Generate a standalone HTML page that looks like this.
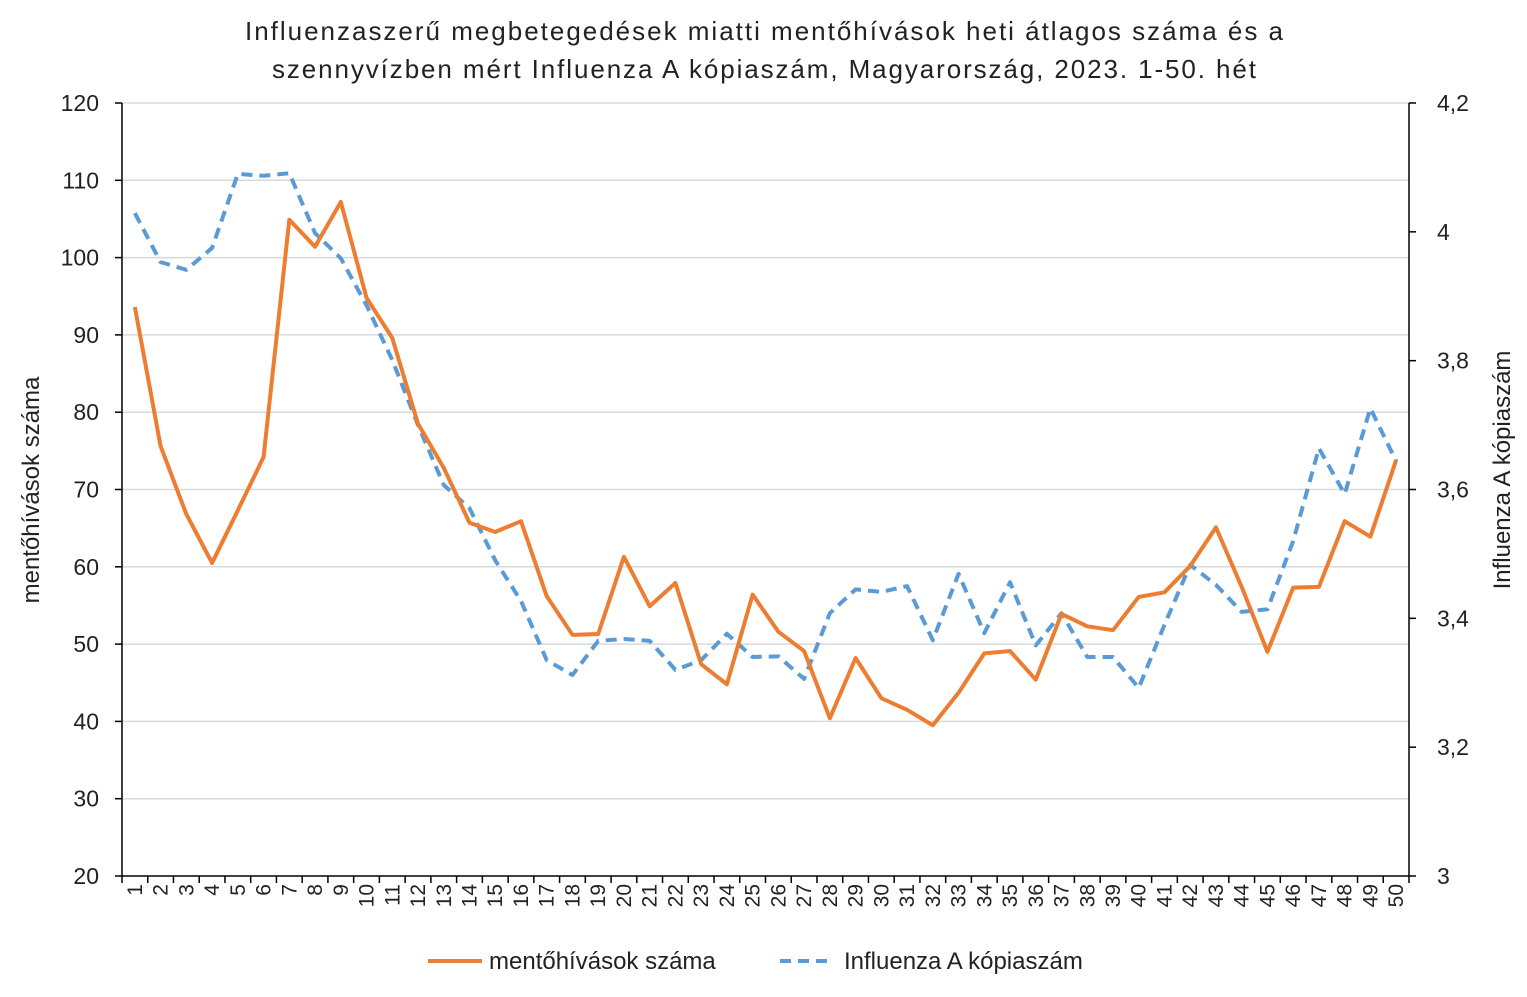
<!DOCTYPE html>
<html><head><meta charset="utf-8"><style>
html,body{margin:0;padding:0;background:#fff;}
svg{display:block;font-family:"Liberation Sans","DejaVu Sans",sans-serif;}
</style></head><body>
<svg id="chart" width="1527" height="997">
<text x="245" y="40" textLength="1038" lengthAdjust="spacing" font-size="26" fill="#222">Influenzaszerű megbetegedések miatti mentőhívások heti átlagos száma és a</text>
<text x="272" y="78" textLength="984" lengthAdjust="spacing" font-size="26" fill="#222">szennyvízben mért Influenza A kópiaszám, Magyarország, 2023. 1-50. hét</text>
<g id="grid"></g>
<g id="axes"></g>
<g id="series"></g>
<text transform="translate(39,490) rotate(-90)" text-anchor="middle" font-size="24" fill="#222">mentőhívások száma</text>
<text transform="translate(1510,470) rotate(-90)" text-anchor="middle" font-size="24" fill="#222">Influenza A kópiaszám</text>
<g>
<line x1="428" y1="961" x2="482" y2="961" stroke="#ED7D31" stroke-width="4"/>
<text x="489" y="969" font-size="24" fill="#222">mentőhívások száma</text>
<line x1="780" y1="961" x2="834" y2="961" stroke="#5B9BD5" stroke-width="4" stroke-dasharray="11,7"/>
<text x="844" y="969" font-size="24" fill="#222">Influenza A kópiaszám</text>
</g>
</svg>
<script>
const weeks = Array.from({length:50},(_, i)=>String(i+1));
const callsValues = [93.6,75.6,66.8,60.5,67.3,74.2,104.9,101.4,107.2,94.8,89.6,78.5,72.8,65.7,64.5,65.9,56.2,51.2,51.3,61.3,54.9,57.9,47.4,44.8,56.4,51.6,49.1,40.4,48.2,43.0,41.5,39.5,43.7,48.8,49.1,45.4,53.9,52.3,51.8,56.1,56.7,60.1,65.1,57.4,49.0,57.3,57.4,65.9,63.9,73.8];
const fluValues = [4.029,3.953,3.941,3.975,4.090,4.087,4.091,3.998,3.959,3.886,3.801,3.700,3.607,3.571,3.490,3.427,3.335,3.312,3.365,3.368,3.365,3.320,3.335,3.376,3.340,3.341,3.306,3.408,3.445,3.441,3.450,3.366,3.469,3.377,3.456,3.358,3.408,3.340,3.340,3.292,3.390,3.483,3.452,3.410,3.414,3.520,3.664,3.593,3.726,3.644];
const leftTicks = [20,30,40,50,60,70,80,90,100,110,120];
const rightTicks = ["3","3,2","3,4","3,6","3,8","4","4,2"];
const rightTickValues = [3,3.2,3.4,3.6,3.8,4,4.2];

const L=122,R=1409,T=103,B=876;
const NS="http://www.w3.org/2000/svg";
const xPos=i=>L+(i+0.5)*(R-L)/weeks.length;
const yL=v=>B-(v-20)/(120-20)*(B-T);
const yR=v=>B-(v-3)/(4.2-3)*(B-T);
function mk(tag,attrs,parent){const e=document.createElementNS(NS,tag);for(const k in attrs)e.setAttribute(k,attrs[k]);parent.appendChild(e);return e;}
const grid=document.getElementById('grid'),axes=document.getElementById('axes'),series=document.getElementById('series');
leftTicks.forEach(v=>{
  const y=yL(v);
  if(v>20){const g=mk('line',{x1:L,x2:R,y1:y,y2:y,stroke:'#d9d9d9','stroke-width':1.5},grid);
  
  }
  mk('line',{x1:L-7,x2:L,y1:y,y2:y,stroke:'#000','stroke-width':1.5},axes);
  const t=mk('text',{x:99,y:y+8,'text-anchor':'end','font-size':23,fill:'#222'},axes);
  t.textContent=v;
  
  
});
rightTickValues.forEach((v,i)=>{
  const y=yR(v);
  mk('line',{x1:R,x2:R+7,y1:y,y2:y,stroke:'#000','stroke-width':1.5},axes);
  const t=mk('text',{x:R+28,y:y+8,'font-size':23,fill:'#222'},axes);
  t.textContent=rightTicks[i];
  
  
});
mk('line',{x1:L,x2:L,y1:T,y2:B,stroke:'#000','stroke-width':1.5},axes);
mk('line',{x1:R,x2:R,y1:T,y2:B,stroke:'#000','stroke-width':1.5},axes);
mk('line',{x1:L,x2:R,y1:B,y2:B,stroke:'#000','stroke-width':1.5},axes);
const step=(R-L)/weeks.length;
for(let i=0;i<=weeks.length;i++){const x=L+i*step;mk('line',{x1:x,x2:x,y1:B,y2:B+7,stroke:'#000','stroke-width':1.5},axes);}
weeks.forEach((w,i)=>{
  const x=xPos(i);
  const t=mk('text',{transform:`translate(${x+7},${B+8}) rotate(-90)`,'text-anchor':'end','font-size':21,fill:'#222'},axes);
  t.textContent=w;
  
  
});
const fp=mk('polyline',{points:fluValues.map((v,i)=>xPos(i)+','+yR(v)).join(' '),fill:'none',stroke:'#5B9BD5','stroke-width':4,'stroke-dasharray':'11,7','stroke-linejoin':'round'},series);


const cp=mk('polyline',{points:callsValues.map((v,i)=>xPos(i)+','+yL(v)).join(' '),fill:'none',stroke:'#ED7D31','stroke-width':4,'stroke-linejoin':'round'},series);


</script>
</body></html>
